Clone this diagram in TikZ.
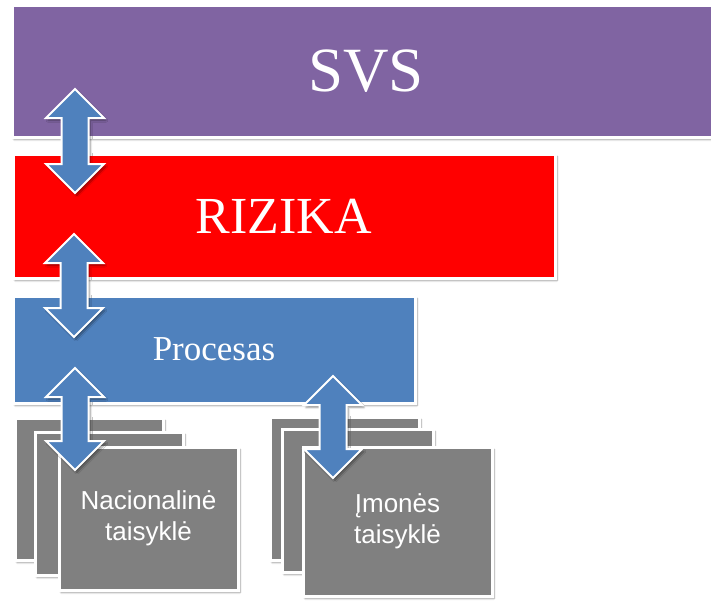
\documentclass[tikz,border=0pt]{standalone}
\usepackage{fontspec}
\setmainfont{Liberation Serif}
\setsansfont{Liberation Sans}
\usetikzlibrary{shadows.blur}
\definecolor{svspurple}{HTML}{8064A2}
\definecolor{procblue}{HTML}{4F81BD}
\definecolor{rulegray}{HTML}{808080}
% vertical two-headed block arrow: x, top tip, bottom tip
\newcommand{\blockarrow}[3]{\draw[arrowbody] (#1,#2) -- ++(29,29) -- ++(-15.5,0) -- (#1+13.5,#3-29) -- ++(15.5,0) -- (#1,#3) -- ++(-29,-29) -- ++(15.5,0) -- (#1-13.5,#2+29) -- ++(-15.5,0) -- cycle;}

\begin{document}
\begin{tikzpicture}[x=1pt, y=-1pt,
	box/.style={draw=white, line width=3pt, inner sep=0pt, outer sep=0pt, anchor=north west, text=white,
		blur shadow={shadow xshift=2pt, shadow yshift=-2.5pt, shadow blur steps=6, shadow opacity=40}},
	rulebox/.style={box, fill=rulegray, font=\sffamily\fontsize{26}{31}\selectfont, align=center},
	arrowbody/.style={fill=procblue, draw=white, line width=2pt, line join=miter,
		blur shadow={shadow xshift=2pt, shadow yshift=-2.5pt, shadow blur steps=5, shadow opacity=40}}]
			%%%%% START %%%%%
			\useasboundingbox (0,0) rectangle (711,602);
			\clip (0,0) rectangle (711,602);
			
			\node[box, fill=svspurple, minimum width=708pt, minimum height=131pt, font=\fontsize{63}{70}\selectfont] (svs) at (12,6) {SVS};
			\node[box, fill=red, minimum width=542pt, minimum height=124pt, font=\fontsize{52}{60}\selectfont] (rizika) at (13,154) {RIZIKA};
			\blockarrow{75}{89}{193}
			
			\node[box, fill=procblue, minimum width=402pt, minimum height=107pt, font=\fontsize{35}{42}\selectfont] (procesas) at (13,296) {Procesas};
			\blockarrow{74}{234}{337}
			
			% national rules
			\node[rulebox, minimum width=148pt, minimum height=142pt] (nat3) at (15,418) {};
			\node[rulebox, minimum width=148pt, minimum height=143pt] (nat2) at (35,432) {};
			\node[rulebox, minimum width=179pt, minimum height=143pt] (nat1) at (59,447) {Nacionalinė\\taisyklė};
			
			% company rules
			\node[rulebox, minimum width=149pt, minimum height=143pt] (imo3) at (270,417) {};
			\node[rulebox, minimum width=151pt, minimum height=143pt] (imo2) at (282,429) {};
			\node[rulebox, minimum width=189pt, minimum height=149pt] (imo1) at (303,447) {Įmonės\\taisyklė};
			
			\blockarrow{75}{368}{470}
			\blockarrow{333}{376}{478}
			%%%%% END %%%%%
\end{tikzpicture}
\end{document}
